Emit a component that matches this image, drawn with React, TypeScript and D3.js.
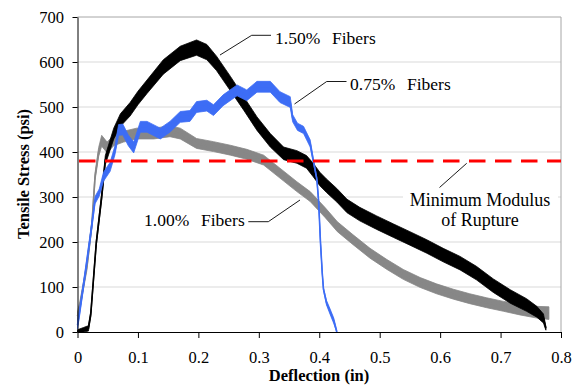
import {useEffect, useRef} from "react";
import * as d3 from "d3"

const width = 580
const height = 386
const margin = {top: 17, right: 19, bottom: 54, left: 77.5}
const font = "'Liberation Serif', 'Times New Roman', serif"

const xTicks = [0, 0.1, 0.2, 0.3, 0.4, 0.5, 0.6, 0.7, 0.8]
const yTicks = [0, 100, 200, 300, 400, 500, 600, 700]
const modulusOfRupture = 380

// 1.50% fibers (deflection in, stress psi, noise half-width psi)
const defl150 = [0, 0.01, 0.018, 0.022, 0.0255, 0.031, 0.04, 0.046, 0.06, 0.071, 0.087, 0.1, 0.115, 0.142, 0.17, 0.197, 0.214, 0.23, 0.253, 0.275, 0.297, 0.319, 0.341, 0.363, 0.379, 0.39, 0.401, 0.412, 0.429, 0.446, 0.467, 0.495, 0.523, 0.55, 0.578, 0.605, 0.633, 0.66, 0.688, 0.716, 0.743, 0.76, 0.771, 0.775]
const stress150 = [0, 5, 8, 40, 101, 197, 301, 382, 441, 471, 495, 520, 545, 589, 619, 632, 622, 597, 552, 508, 463, 426, 397, 389, 378, 360, 340, 325, 304, 280, 262, 243, 225, 208, 190, 171, 153, 131, 103, 79, 60, 45, 30, 8]
const noise150 = [5, 5, 6, 6, 6, 6, 8, 10, 12, 14, 15, 15, 15, 16, 16, 17, 17, 16, 16, 15, 15, 15, 14, 14, 14, 15, 15, 15, 15, 15, 15, 15, 15, 15, 15, 15, 15, 15, 15, 15, 14, 12, 10, 4]

// 1.00% fibers
const defl100 = [0, 0.004, 0.0155, 0.024, 0.029, 0.035, 0.04, 0.049, 0.06, 0.076, 0.098, 0.126, 0.153, 0.17, 0.197, 0.225, 0.253, 0.28, 0.308, 0.335, 0.363, 0.385, 0.41, 0.43, 0.456, 0.484, 0.512, 0.539, 0.567, 0.594, 0.622, 0.649, 0.677, 0.705, 0.732, 0.76, 0.78]
const stress100 = [35, 60, 145, 242, 345, 400, 425, 410, 426, 434, 441, 441, 446, 441, 419, 412, 404, 395, 382, 353, 323, 301, 265, 234, 205, 175, 150, 128, 110, 96, 84, 74, 65, 57, 50, 44, 42]
const noise100 = [10, 8, 8, 8, 8, 10, 12, 12, 12, 12, 12, 12, 12, 12, 11, 11, 11, 11, 11, 11, 11, 11, 11, 11, 11, 11, 11, 11, 11, 11, 11, 11, 11, 11, 12, 13, 14]

// 0.75% fibers
const defl075 = [0, 0.003, 0.0128, 0.022, 0.029, 0.036, 0.043, 0.054, 0.062, 0.068, 0.075, 0.084, 0.093, 0.104, 0.115, 0.137, 0.153, 0.17, 0.186, 0.197, 0.214, 0.225, 0.241, 0.264, 0.28, 0.297, 0.319, 0.335, 0.352, 0.356, 0.364, 0.374, 0.385, 0.39, 0.396, 0.399, 0.402, 0.405, 0.407, 0.412, 0.418, 0.424, 0.429]
const stress075 = [15, 40, 131, 220, 293, 310, 345, 367, 404, 449, 450, 426, 410, 456, 456, 441, 456, 478, 480, 500, 503, 493, 515, 537, 526, 545, 545, 522, 511, 475, 456, 449, 419, 382, 340, 290, 200, 130, 95, 65, 45, 25, 0]
const noise075 = [8, 8, 8, 8, 8, 8, 10, 10, 10, 12, 12, 12, 12, 12, 12, 12, 12, 12, 12, 12, 12, 12, 12, 12, 12, 12, 12, 12, 12, 8, 8, 8, 8, 5, 3, 2, 2, 2, 3, 5, 6, 6, 4]

const series = [
    {x: defl100, y: stress100, noise: noise100, color: "#878787"},
    {x: defl150, y: stress150, noise: noise150, color: "#000000"},
    {x: defl075, y: stress075, noise: noise075, color: "#3d6df5"},
]

const App = () => {
    const svgRef = useRef(null)
    const innerWidth = width - margin.left - margin.right
    const innerHeight = height - margin.top - margin.bottom

    useEffect(() => {
        const svg = d3.select(svgRef.current)
        svg.selectAll("*").remove()

        const xScale = d3.scaleLinear().domain([0, 0.8]).range([0, innerWidth])
        const yScale = d3.scaleLinear().domain([0, 700]).range([innerHeight, 0])

        const g = svg.append("g").attr("transform", `translate(${margin.left},${margin.top})`)

        // сетка
        g.selectAll("line.grid").data(yTicks.filter(d => d > 0)).join("line")
            .attr("x1", 0).attr("x2", innerWidth)
            .attr("y1", d => yScale(d)).attr("y2", d => yScale(d))
            .attr("stroke", d => d === 700 ? "#a6a6a6" : "#d9d9d9").attr("stroke-width", 1)
        g.append("line")
            .attr("x1", innerWidth).attr("x2", innerWidth).attr("y1", 0).attr("y2", innerHeight)
            .attr("stroke", "#a6a6a6")

        // белый фон под подписью
        g.append("rect").attr("x", 403 - margin.left).attr("y", 187 - margin.top)
            .attr("width", 155).attr("height", 44).attr("fill", "#fff")

        // кривые
        series.forEach(s => {
            const idx = d3.range(s.x.length)
            const area = d3.area<number>()
                .x(i => xScale(s.x[i]))
                .y0(i => yScale(Math.max(0, s.y[i] - s.noise[i])))
                .y1(i => yScale(s.y[i] + s.noise[i]))
            const line = d3.line<number>()
                .x(i => xScale(s.x[i]))
                .y(i => yScale(s.y[i]))
            g.append("path").attr("d", area(idx)).attr("fill", s.color)
                .attr("stroke", s.color).attr("stroke-width", 0.8)
            g.append("path").attr("d", line(idx)).attr("fill", "none")
                .attr("stroke", s.color).attr("stroke-width", 1.6)
        })

        // оси
        const xAxis = d3.axisBottom(xScale).tickValues(xTicks).tickSize(6).tickSizeOuter(0).tickPadding(13)
            .tickFormat(d => d === 0 ? "0" : d3.format(".1f")(d as number))
        const yAxis = d3.axisLeft(yScale).tickValues(yTicks).tickSize(5).tickSizeOuter(0).tickPadding(8.5)

        const gx = g.append("g").attr("transform", `translate(0,${innerHeight})`).call(xAxis)
        const gy = g.append("g").call(yAxis)
        ;[gx, gy].forEach(a => {
            a.attr("font-family", font).attr("font-size", 16.5)
            a.selectAll("path, line").attr("stroke", "#000")
            a.selectAll("text").attr("fill", "#000")
        })

        // предел прочности
        g.append("line")
            .attr("x1", xScale(0) + 1.5).attr("x2", xScale(0.8))
            .attr("y1", yScale(modulusOfRupture)).attr("y2", yScale(modulusOfRupture))
            .attr("stroke", "#ff0000").attr("stroke-width", 3).attr("stroke-dasharray", "16.5,9.5")

        // подписи
        const ann = svg.append("g").attr("font-family", font).attr("fill", "#000")
        const leaders = [
            [[220, 55], [251.7, 35.3], [271, 35.3]],
            [[294.5, 104], [326.7, 81.5], [346.5, 81.5]],
            [[300, 200], [268.3, 221.7], [248.3, 221.7]],
            [[439.5, 187.5], [466.7, 163.3]],
        ]
        leaders.forEach(p => {
            ann.append("path").attr("d", d3.line()(p as [number, number][]))
                .attr("fill", "none").attr("stroke", "#000").attr("stroke-width", 0.9)
        })
        const labels = [
            {pct: "1.50%", x: 275, y: 43.5},
            {pct: "0.75%", x: 350, y: 90},
            {pct: "1.00%", x: 144, y: 225.7},
        ]
        labels.forEach(l => {
            ann.append("text").attr("x", l.x).attr("y", l.y).attr("font-size", 17.5).text(l.pct)
            ann.append("text").attr("x", l.x + 57).attr("y", l.y).attr("font-size", 17.5).text("Fibers")
        })
        ann.append("text").attr("x", 480).attr("y", 206).attr("font-size", 18)
            .attr("text-anchor", "middle").text("Minimum Modulus")
        ann.append("text").attr("x", 480).attr("y", 225.7).attr("font-size", 18)
            .attr("text-anchor", "middle").text("of Rupture")

        // названия осей
        svg.append("text").attr("x", 319).attr("y", 381).attr("text-anchor", "middle")
            .attr("font-family", font).attr("font-weight", "bold").attr("font-size", 16.5)
            .text("Deflection (in)")
        svg.append("text").attr("transform", "translate(28.5,174) rotate(-90)").attr("text-anchor", "middle")
            .attr("font-family", font).attr("font-weight", "bold").attr("font-size", 16.5)
            .text("Tensile Stress (psi)")
    }, [innerHeight, innerWidth]);

    return <svg ref={svgRef} width={width} height={height}
                style={{position: "absolute", left: 0, top: 0, background: "#fff"}}/>
}

export default App
